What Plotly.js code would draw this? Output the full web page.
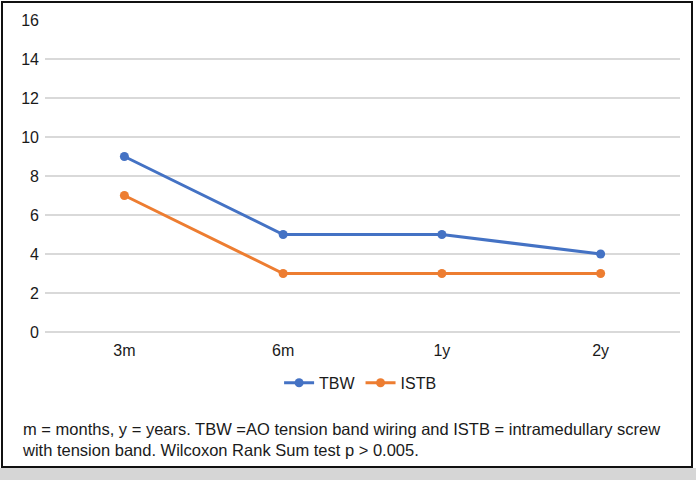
<!DOCTYPE html>
<html>
<head>
<meta charset="utf-8">
<script src="https://cdn.plot.ly/plotly-3.0.1.min.js"></script>
<style>
  html, body { margin: 0; padding: 0; background: #ffffff; }
  #wrap { position: relative; width: 696px; height: 480px; background: #ffffff; overflow: hidden; }
  #strip { position: absolute; left: 0; top: 468px; width: 696px; height: 12px; background: #d6d6d6; }
  #frame { position: absolute; left: 1px; top: 1px; width: 688px; height: 463px; border: 2px solid #111111; background: #ffffff; }
  #chart { position: absolute; left: 0; top: 0; width: 696px; height: 480px; }
</style>
</head>
<body>
<div id="wrap">
  <div id="strip"></div>
  <div id="frame"></div>
  <div id="chart"></div>
</div>
<script>
const categories = ["3m", "6m", "1y", "2y"];
const tbwValues = [9, 5, 5, 4];
const istbValues = [7, 3, 3, 3];
const yTicks = [0, 2, 4, 6, 8, 10, 12, 14, 16];
const captionLines = [
  "m = months, y = years. TBW =AO tension band wiring and ISTB = intramedullary screw",
  "with tension band. Wilcoxon Rank Sum test p &gt; 0.005."
];

const font = "Liberation Sans, Arial, Helvetica, sans-serif";
const txt = "#1a1a1a";

const traces = [
  {
    x: categories, y: tbwValues, name: "TBW", type: "scatter", mode: "lines+markers",
    line: { color: "#4472c4", width: 3 },
    marker: { color: "#4472c4", size: 9, symbol: "circle" }
  },
  {
    x: categories, y: istbValues, name: "ISTB", type: "scatter", mode: "lines+markers",
    line: { color: "#ed7d31", width: 3 },
    marker: { color: "#ed7d31", size: 9, symbol: "circle" }
  }
];

const layout = {
  width: 696, height: 480,
  paper_bgcolor: "rgba(0,0,0,0)",
  plot_bgcolor: "rgba(0,0,0,0)",
  margin: { l: 45, r: 16, t: 20, b: 148, pad: 0 },
  font: { family: font, size: 16, color: txt },
  showlegend: true,
  legend: {
    orientation: "h", x: 0.497, xanchor: "center", y: -0.163, yanchor: "middle",
    font: { family: font, size: 16, color: txt },
    itemwidth: 30, tracegroupgap: 0, bgcolor: "rgba(0,0,0,0)"
  },
  xaxis: {
    type: "category", range: [-0.5, 3.5],
    showgrid: false, zeroline: false, showline: false, ticks: "",
    tickfont: { family: font, size: 16, color: txt },
    ticklabelstandoff: 7
  },
  yaxis: {
    range: [0, 16], tickvals: yTicks, ticktext: yTicks.map(String),
    showgrid: true, gridcolor: "#d9d9d9", gridwidth: 1.3,
    zeroline: true, zerolinecolor: "#d9d9d9", zerolinewidth: 1.3,
    showline: false, ticks: "",
    tickfont: { family: font, size: 16, color: txt },
    ticklabelstandoff: 5
  },
  annotations: [
    {
      xref: "paper", yref: "paper", x: -0.04, y: -0.275, xanchor: "left", yanchor: "top",
      align: "left", showarrow: false,
      text: captionLines.join("<br>"),
      font: { family: font, size: 16.5, color: txt }
    }
  ]
};

Plotly.newPlot("chart", traces, layout, { displayModeBar: false, staticPlot: true });
</script>
</body>
</html>
